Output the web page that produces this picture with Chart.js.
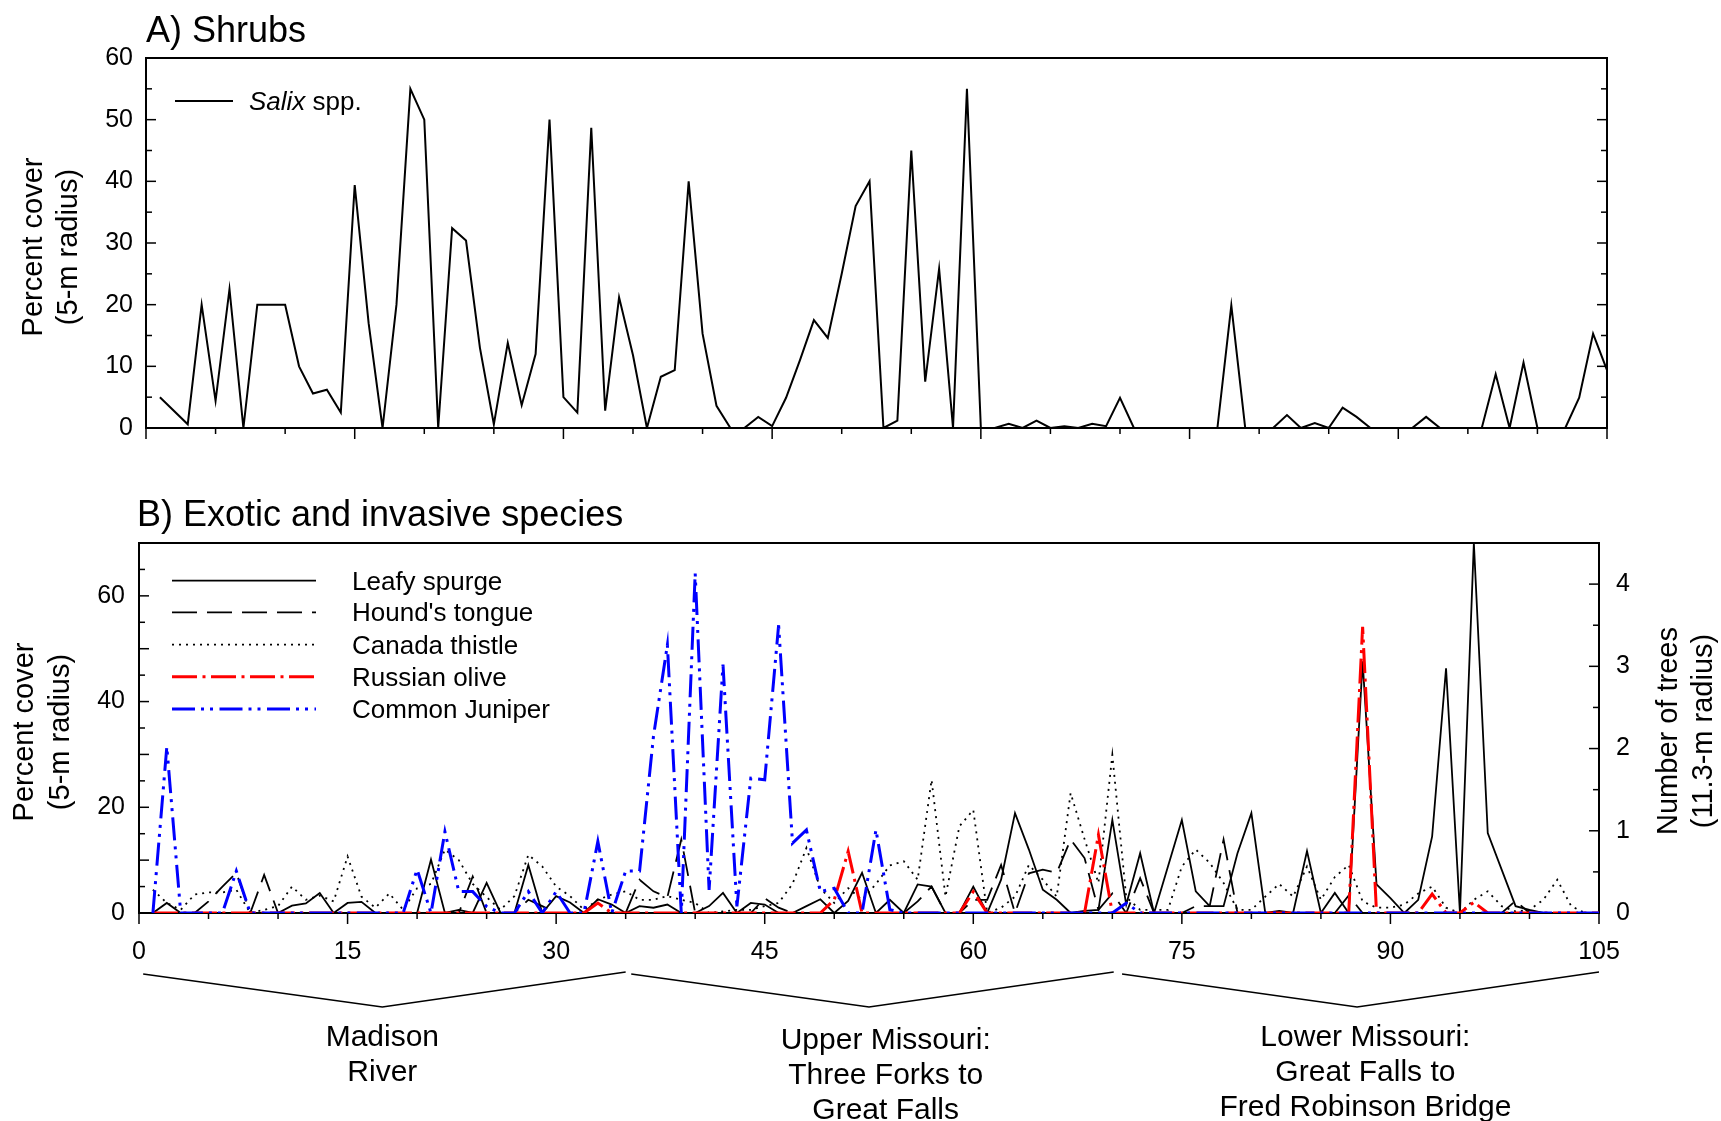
<!DOCTYPE html>
<html>
<head>
<meta charset="utf-8">
<script src="https://cdn.jsdelivr.net/npm/chart.js@4.4.1/dist/chart.umd.min.js"></script>
<style>
  html, body { margin: 0; padding: 0; background: #fff; }
  #wrap { position: relative; width: 1721px; height: 1121px; overflow: hidden; background: #fff; }
  #wrap canvas { position: absolute; left: 0; }
  #shrubChart { top: 0; }
  #exoticChart { top: 480px; }
</style>
</head>
<body>
<div id="wrap">
  <canvas id="shrubChart" width="1721" height="480"></canvas>
  <canvas id="exoticChart" width="1721" height="641"></canvas>
</div>
<script>
// plots 1..105 along the river, percent cover (5-m radius)
const salixCover = [
  5.0, null, 0.6, 20, 4.4, 22.5, 0, 20, 20, 20,
  10, 5.6, 6.2, 2.5, 39.4, 17, 0, 20, 55, 50,
  0, 32.4, 30.4, 13, 0.6, 13.8, 3.7, 12, 50, 5,
  2.5, 48.7, 2.8, 21.2, 11.8, 0, 8.3, 9.4, 40, 15.3,
  3.6, 0, 0, 1.8, 0.3, 4.9, 11, 17.5, 14.6, 25,
  36, 40, 0, 1.2, 45, 7.5, 25.8, 0, 55, 0,
  0, 0.7, 0, 1.2, 0, 0.3, 0, 0.7, 0.3, 4.9,
  0, 0, 0, 0, 0, 0, 0, 19.9, 0, 0,
  0, 2.1, 0, 0.8, 0, 3.3, 1.8, 0, 0, 0,
  0, 1.8, 0, 0, 0, 0, 8.7, 0, 10.6, 0,
  0, 0, 4.9, 15.3, 9.4
];

const leafySpurge = [
  0, 1.9, 0, 0, 0, 0, 0, 0, 0, 0,
  1.4, 1.8, 3.8, 0, 1.9, 2.1, 0, 0, 0, 0,
  10.1, 0, 0.6, 0, 5.7, 0, 0, 9.1, 0, 3.2,
  2.0, 0, 2.6, 1.6, 0, 1.3, 1.0, 1.6, 0, 0,
  1.3, 3.8, 0, 1.9, 1.6, 0, 0, 1.3, 2.6, 0,
  2.3, 7.6, 0, 2.5, 0, 5.4, 5.0, 0, 0, 5.0,
  0, 6.3, 18.9, 12.0, 4.4, 2.5, 0, 0.4, 0.6, 17.6,
  1.6, 11.3, 0, 8.8, 17.6, 4.1, 1.3, 1.3, 11.3, 18.9,
  0, 0.4, 0, 11.7, 0, 3.8, 0, 47.6, 5.4, 2.8,
  0, 2.5, 14.5, 46.3, 0, 70, 15.1, 8.2, 1.3, 0.6,
  0, 0, 0, 0, 0
];

const houndsTongue = [
  0, 0, 0, 0, 2.2, 5.0, 7.6, 0, 7.2, 0,
  0, 0, 0, 0, 0, 0, 0, 0, 0, 0,
  0, 0, 0, 6.9, 0, 0, 0, 2.5, 1.3, 0,
  0, 0, 0, 0, 0, 6.3, 4.1, 3.0, 13.9, 0,
  0, 0, 0, 0, 2.8, 1.0, 0, 0, 0, 0,
  0, 0, 0, 0, 0, 2.2, 5.0, 0, 0, 2.5,
  2.5, 9.1, 0, 7.5, 8.2, 7.6, 13.9, 10.4, 0.6, 3.7,
  0, 6.6, 0, 0, 0, 1.3, 1.3, 13.9, 0, 0,
  0, 0, 0, 0, 0, 0, 3.3, 0, 0, 0,
  0, 0, 0, 0, 0, 0, 0, 0, 2.3, 0,
  0, 0, 0, 0, 0
];

const canadaThistle = [
  4.4, 1.9, 0.6, 3.5, 3.9, 3.9, 4.4, 0, 0.6, 1.3,
  5.0, 2.5, 3.3, 2.2, 10.7, 3.1, 1.0, 3.7, 0.6, 4.7,
  5.5, 12.0, 10.0, 5.5, 3.0, 0.6, 3.2, 11.0, 8.8, 5.0,
  3.2, 0.6, 2.5, 3.5, 4.1, 2.5, 2.5, 3.2, 2.5, 1.9,
  0, 0.3, 0.6, 0.6, 1.3, 1.9, 5.5, 12.3, 4.7, 1.9,
  4.7, 2.5, 5.5, 9.0, 9.8, 6.3, 25.2, 3.1, 16.4, 19.5,
  0, 1.0, 3.1, 9.1, 6.3, 3.1, 22.7, 14.0, 5.7, 29.9,
  3.0, 0.6, 0.6, 0.6, 8.8, 12.0, 9.5, 5.7, 0.6, 0.6,
  3.1, 5.5, 3.1, 8.8, 2.5, 6.8, 9.1, 2.2, 1.0, 1.0,
  1.6, 3.7, 5.0, 1.0, 0, 2.5, 4.1, 1.3, 0.3, 0.6,
  2.5, 6.3, 1.3, 0, 0
];

// number of trees (11.3-m radius)
const russianOlive = [
  0, 0, 0, 0, 0, 0, 0, 0, 0, 0,
  0, 0, 0, 0, 0, 0, 0, 0, 0, 0,
  0, 0, 0, 0, 0, 0, 0, 0, 0, 0,
  0, 0, 0.12, 0, 0, 0, 0, 0, 0, 0,
  0, 0, 0, 0, 0, 0, 0, 0, 0, 0.16,
  0.75, 0, 0, 0, 0, 0, 0, 0, 0, 0.26,
  0, 0, 0, 0, 0, 0, 0, 0, 0.95, 0,
  0, 0, 0, 0, 0, 0, 0, 0, 0, 0,
  0, 0, 0, 0, 0, 0, 0, 3.48, 0, 0,
  0, 0, 0.23, 0, 0, 0.13, 0, 0, 0, 0,
  0, 0, 0, 0, 0
];

const commonJuniper = [
  0, 2.02, 0, 0, 0, 0, 0.51, 0, 0, 0,
  0, 0, 0, 0, 0, 0, 0, 0, 0, 0.53,
  0, 0.99, 0.26, 0.26, 0.08, 0, 0, 0.26, 0, 0.26,
  0, 0, 0.87, 0, 0.51, 0.51, 2.15, 3.26, 0, 4.13,
  0.28, 3.02, 0.08, 1.64, 1.62, 3.5, 0.85, 1.01, 0.26, 0.3,
  0, 0, 1.01, 0.04, 0, 0, 0, 0, 0, 0,
  0, 0, 0, 0, 0, 0, 0, 0, 0, 0,
  0.12, 0, 0, 0, 0, 0, 0, 0, 0, 0,
  0, 0, 0, 0, 0, 0, 0, 0, 0, 0,
  0, 0, 0, 0, 0, 0, 0, 0, 0, 0,
  0, 0, 0, 0, 0
];

const regionNames = [
  ['Madison', 'River'],
  ['Upper Missouri:', 'Three Forks to', 'Great Falls'],
  ['Lower Missouri:', 'Great Falls to', 'Fred Robinson Bridge']
];
const regionBounds = [[0.3, 17.5, 35], [35.4, 52.5, 70.1], [70.7, 87.6, 105]];
const regionCenters = [17.5, 53.7, 88.2];

const FONT = '"Liberation Sans", Arial, Helvetica, sans-serif';
const toPoints = arr => arr.map((v, i) => ({ x: i + 1, y: v }));

function isMultiple(v, step) {
  const r = v / step;
  return Math.abs(r - Math.round(r)) < 1e-6;
}

function makeDecor(cfg) {
  return {
    id: 'decor',
    beforeDatasetsDraw(chart) {
      const { ctx, chartArea: a } = chart;
      const seg = (x1, y1, x2, y2) => { ctx.beginPath(); ctx.moveTo(x1, y1); ctx.lineTo(x2, y2); ctx.stroke(); };
      ctx.save();
      ctx.strokeStyle = '#000';
      ctx.lineWidth = 2;
      ctx.strokeRect(a.left, a.top, a.right - a.left, a.bottom - a.top);
      ctx.lineWidth = 1.5;

      const xs = chart.scales.x;
      const nx = Math.round((xs.max - xs.min) / cfg.xMinor);
      for (let i = 0; i <= nx; i++) {
        const v = xs.min + i * cfg.xMinor;
        const px = xs.getPixelForValue(v);
        seg(px, a.bottom, px, a.bottom + (isMultiple(v, cfg.xMajor) ? 11 : 6));
      }

      cfg.yTicks.forEach(t => {
        const s = chart.scales[t.axis];
        const n = Math.round((s.max - s.min) / t.minor);
        for (let i = 0; i <= n; i++) {
          const v = s.min + i * t.minor;
          const py = s.getPixelForValue(v);
          const len = isMultiple(v, t.major) ? 10 : 6;
          t.sides.forEach(side => {
            if (side === 'left') seg(a.left, py, a.left + len, py);
            else seg(a.right - len, py, a.right, py);
          });
        }
      });
      ctx.restore();
    },
    afterDraw(chart) {
      const ctx = chart.ctx;
      ctx.save();
      ctx.fillStyle = '#000';
      ctx.textBaseline = 'middle';

      (cfg.texts || []).forEach(t => {
        ctx.save();
        ctx.translate(t.x, t.y);
        if (t.rotate) ctx.rotate(t.rotate);
        ctx.font = t.font;
        ctx.textAlign = t.align || 'left';
        ctx.fillText(t.text, 0, 0);
        ctx.restore();
      });

      (cfg.legend || []).forEach(item => {
        const ds = chart.data.datasets[item.dataset];
        ctx.save();
        ctx.strokeStyle = ds.borderColor;
        ctx.lineWidth = ds.borderWidth;
        ctx.setLineDash(ds.borderDash || []);
        ctx.beginPath();
        ctx.moveTo(item.x0, item.y);
        ctx.lineTo(item.x1, item.y);
        ctx.stroke();
        ctx.restore();
        let tx = item.tx;
        ctx.textAlign = 'left';
        item.parts.forEach(p => {
          ctx.font = (p.italic ? 'italic ' : '') + item.size + 'px ' + FONT;
          ctx.fillText(p.text, tx, item.y + 2);
          tx += ctx.measureText(p.text).width;
        });
      });

      if (cfg.brackets) {
        const xs = chart.scales.x;
        const b = cfg.brackets;
        ctx.strokeStyle = '#000';
        ctx.lineWidth = 1.5;
        regionBounds.forEach(r => {
          ctx.beginPath();
          ctx.moveTo(xs.getPixelForValue(r[0]), b.yEnd);
          ctx.lineTo(xs.getPixelForValue(r[1]), b.yMid);
          ctx.lineTo(xs.getPixelForValue(r[2]), b.yEnd - 2);
          ctx.stroke();
        });
        ctx.font = b.size + 'px ' + FONT;
        ctx.textAlign = 'center';
        regionNames.forEach((lines, i) => {
          const cx = xs.getPixelForValue(regionCenters[i]);
          const y0 = b.yText + (i === 1 ? 3 : 0);
          lines.forEach((ln, j) => ctx.fillText(ln, cx, y0 + j * b.lineH));
        });
      }
      ctx.restore();
    }
  };
}

const tickFont = { family: FONT, size: 25 };
const hideGrid = { display: false, drawTicks: false };

new Chart(document.getElementById('shrubChart'), {
  type: 'line',
  data: {
    datasets: [{
      label: 'Salix spp.',
      data: toPoints(salixCover),
      borderColor: '#000',
      borderWidth: 2,
      pointRadius: 0,
      tension: 0,
      spanGaps: true,
      fill: false
    }]
  },
  options: {
    responsive: false,
    animation: false,
    devicePixelRatio: 1,
    layout: { padding: { top: 58, right: 114, left: 0, bottom: 0 } },
    plugins: { legend: { display: false }, tooltip: { enabled: false } },
    scales: {
      x: {
        type: 'linear', min: 0, max: 105,
        grid: hideGrid, border: { display: false },
        ticks: { display: false, stepSize: 15 },
        afterFit: s => { s.height = 52; }
      },
      y: {
        min: 0, max: 60,
        grid: hideGrid, border: { display: false },
        ticks: { stepSize: 10, padding: 13, color: '#000', font: tickFont },
        afterFit: s => { s.width = 146; }
      }
    }
  },
  plugins: [makeDecor({
    xMinor: 5, xMajor: 15,
    yTicks: [{ axis: 'y', minor: 5, major: 10, sides: ['left', 'right'] }],
    texts: [
      { text: 'A) Shrubs', x: 146, y: 32, font: '36px ' + FONT },
      { text: 'Percent cover', x: 34, y: 247, rotate: -Math.PI / 2, align: 'center', font: '29px ' + FONT },
      { text: '(5-m radius)', x: 69, y: 247, rotate: -Math.PI / 2, align: 'center', font: '29px ' + FONT }
    ],
    legend: [
      { dataset: 0, x0: 175, x1: 233, y: 101, tx: 249, size: 26, parts: [{ text: 'Salix', italic: true }, { text: ' spp.' }] }
    ]
  })]
});

new Chart(document.getElementById('exoticChart'), {
  type: 'line',
  data: {
    datasets: [
      { label: 'Leafy spurge', data: toPoints(leafySpurge), yAxisID: 'y', borderColor: '#000', borderWidth: 1.8, order: 5 },
      { label: "Hound's tongue", data: toPoints(houndsTongue), yAxisID: 'y', borderColor: '#000', borderWidth: 1.8, borderDash: [25, 10], order: 4 },
      { label: 'Canada thistle', data: toPoints(canadaThistle), yAxisID: 'y', borderColor: '#000', borderWidth: 1.8, borderDash: [2, 5], order: 3 },
      { label: 'Russian olive', data: toPoints(russianOlive), yAxisID: 'y1', borderColor: '#ff0000', borderWidth: 3, borderDash: [25, 5.5, 3, 5.5], order: 2 },
      { label: 'Common Juniper', data: toPoints(commonJuniper), yAxisID: 'y1', borderColor: '#0000ff', borderWidth: 3, borderDash: [23, 6, 3, 6, 3, 6.5], order: 1 }
    ]
  },
  options: {
    responsive: false,
    animation: false,
    devicePixelRatio: 1,
    elements: { point: { radius: 0 }, line: { tension: 0, fill: false } },
    layout: { padding: { top: 63, right: 0, left: 0, bottom: 0 } },
    plugins: { legend: { display: false }, tooltip: { enabled: false } },
    scales: {
      x: {
        type: 'linear', min: 0, max: 105,
        grid: hideGrid, border: { display: false },
        ticks: { stepSize: 15, padding: 24, color: '#000', font: tickFont, maxRotation: 0, autoSkip: false },
        afterFit: s => { s.height = 208; }
      },
      y: {
        position: 'left', min: 0, max: 70,
        grid: hideGrid, border: { display: false },
        ticks: { stepSize: 20, includeBounds: false, padding: 14, color: '#000', font: tickFont },
        afterFit: s => { s.width = 139; }
      },
      y1: {
        position: 'right', min: 0, max: 4.5,
        grid: hideGrid, border: { display: false },
        ticks: { stepSize: 1, includeBounds: false, padding: 17, color: '#000', font: tickFont },
        afterFit: s => { s.width = 122; }
      }
    }
  },
  plugins: [makeDecor({
    xMinor: 5, xMajor: 15,
    yTicks: [
      { axis: 'y', minor: 5, major: 10, sides: ['left'] },
      { axis: 'y1', minor: 0.5, major: 1, sides: ['right'] }
    ],
    texts: [
      { text: 'B) Exotic and invasive species', x: 137, y: 36, font: '36px ' + FONT },
      { text: 'Percent cover', x: 25, y: 252, rotate: -Math.PI / 2, align: 'center', font: '29px ' + FONT },
      { text: '(5-m radius)', x: 61, y: 252, rotate: -Math.PI / 2, align: 'center', font: '29px ' + FONT },
      { text: 'Number of trees', x: 1669, y: 251, rotate: -Math.PI / 2, align: 'center', font: '29px ' + FONT },
      { text: '(11.3-m radius)', x: 1704, y: 251, rotate: -Math.PI / 2, align: 'center', font: '29px ' + FONT }
    ],
    legend: [
      { dataset: 0, x0: 172, x1: 316, y: 100.7, tx: 352, size: 26, parts: [{ text: 'Leafy spurge' }] },
      { dataset: 1, x0: 172, x1: 316, y: 132.3, tx: 352, size: 26, parts: [{ text: "Hound's tongue" }] },
      { dataset: 2, x0: 172, x1: 316, y: 164.7, tx: 352, size: 26, parts: [{ text: 'Canada thistle' }] },
      { dataset: 3, x0: 172, x1: 316, y: 196.7, tx: 352, size: 26, parts: [{ text: 'Russian olive' }] },
      { dataset: 4, x0: 172, x1: 316, y: 229, tx: 352, size: 26, parts: [{ text: 'Common Juniper' }] }
    ],
    brackets: { yEnd: 494, yMid: 527, yText: 558, lineH: 35, size: 30 }
  })]
});
</script>
</body>
</html>
